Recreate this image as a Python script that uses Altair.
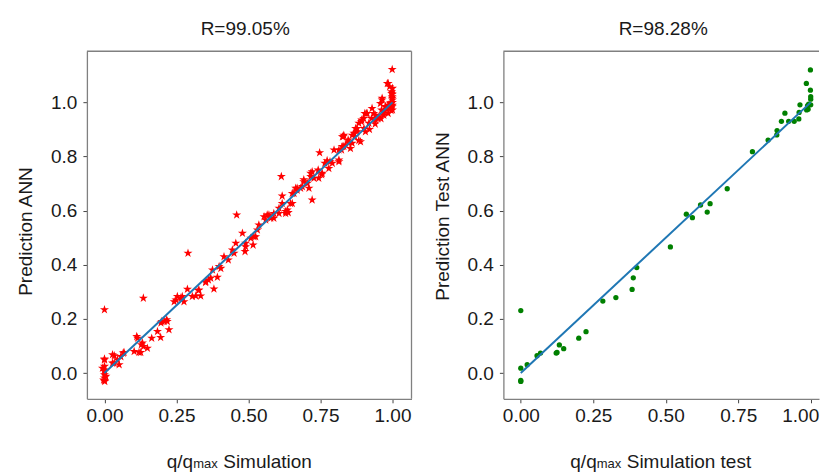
import altair as alt
import pandas as pd

FONT = "Liberation Sans"
TXT = "#1a1a1a"
GRAY = "#808080"
STAR = ("M0,-1L0.2245,-0.309L0.951,-0.309L0.3633,0.118L0.5878,0.809L0,0.382"
        "L-0.5878,0.809L-0.3633,0.118L-0.951,-0.309L-0.2245,-0.309Z")

# ---------------- data ----------------
train_x = [0.0, 0.0, 0.0, 0.0, 0.0, 0.0, 0.0, 0.005, -0.003, 0.001, 0.0, -0.007, 0.0,
           0.028, 0.034, 0.045, 0.051, 0.057, 0.065, 0.034, 0.068, 0.028,
           0.103, 0.112, 0.12, 0.128, 0.135, 0.135, 0.149, 0.164, 0.184, 0.195, 0.199, 0.207, 0.216, 0.224,
           0.126, 0.115, 0.132, 0.196, 0.218,
           0.242, 0.253, 0.265, 0.276, 0.288, 0.29, 0.305, 0.317, 0.326, 0.334, 0.248, 0.27, 0.328,
           0.351, 0.361, 0.375, 0.38, 0.392, 0.398, 0.369, 0.352, 0.404,
           0.415, 0.43, 0.444, 0.456, 0.459, 0.479, 0.488, 0.49, 0.45, 0.49, 0.516, 0.508,
           0.519, 0.531, 0.536, 0.554, 0.565, 0.577, 0.588, 0.606, 0.614, 0.617, 0.629, 0.638, 0.56, 0.571,
           0.588, 0.525, 0.629,
           0.652, 0.658, 0.669, 0.681, 0.692, 0.71, 0.716, 0.721, 0.727, 0.646, 0.664, 0.692, 0.704, 0.687,
           0.669, 0.652, 0.716, 0.744, 0.721, 0.635, 0.606, 0.617,
           0.742, 0.747, 0.754, 0.765, 0.773, 0.783, 0.756, 0.779, 0.791, 0.814,
           0.797, 0.814, 0.823, 0.829, 0.837, 0.846, 0.854, 0.86, 0.869, 0.877, 0.883, 0.814, 0.831, 0.849,
           0.826, 0.866, 0.877, 0.893, 0.904, 0.825, 0.848, 0.889, 0.86, 0.831, 0.872, 0.883,
           0.892, 0.901, 0.906, 0.909, 0.918, 0.927, 0.935, 0.941, 0.953, 0.962, 0.964, 0.97, 0.976, 0.982,
           0.985, 0.99, 0.993, 0.997, 0.999, 0.999, 0.999, 1.0, 1.0, 1.0, 0.9, 0.912, 0.929, 0.941, 0.958,
           0.964, 0.976, 0.993, 0.999, 0.997, 0.985,
           0.95, 0.97, 0.98, 0.99, 1.0, 1.0, 1.0, 0.995, 0.92, 0.94, 0.96, 0.985]
train_y = [0.234, 0.052, 0.025, 0.012, -0.006, -0.018, -0.027, -0.012, -0.025, -0.031, 0.049, 0.018, 0.006,
           0.068, 0.037, 0.049, 0.031, 0.061, 0.074, 0.064, 0.076, 0.037,
           0.08, 0.135, 0.076, 0.105, 0.277, 0.098, 0.092, 0.129, 0.154, 0.132, 0.191, 0.191, 0.197, 0.16,
           0.076, 0.129, 0.111, 0.185, 0.191,
           0.264, 0.283, 0.277, 0.264, 0.31, 0.443, 0.283, 0.285, 0.305, 0.285, 0.27, 0.283, 0.307,
           0.335, 0.344, 0.381, 0.311, 0.354, 0.394, 0.351, 0.338, 0.387,
           0.43, 0.418, 0.455, 0.48, 0.584, 0.517, 0.449, 0.48, 0.443, 0.467, 0.473, 0.498,
           0.504, 0.529, 0.547, 0.578, 0.584, 0.572, 0.59, 0.59, 0.726, 0.654, 0.597, 0.593, 0.566, 0.584,
           0.572, 0.504, 0.59,
           0.627, 0.664, 0.683, 0.683, 0.714, 0.683, 0.738, 0.64, 0.72, 0.627, 0.683, 0.707, 0.701, 0.689,
           0.676, 0.664, 0.726, 0.72, 0.744, 0.603, 0.609, 0.627,
           0.75, 0.814, 0.733, 0.775, 0.785, 0.781, 0.738, 0.756, 0.775, 0.781,
           0.824, 0.787, 0.824, 0.873, 0.843, 0.861, 0.83, 0.849, 0.873, 0.892, 0.859, 0.824, 0.837, 0.855,
           0.873, 0.886, 0.904, 0.935, 0.959, 0.837, 0.849, 0.855, 0.879, 0.879, 0.904, 0.923,
           0.929, 0.904, 0.892, 0.959, 0.923, 0.941, 0.959, 0.935, 0.947, 0.972, 1.009, 0.953, 0.984, 1.07,
           0.959, 1.058, 0.996, 1.039, 1.122, 1.021, 0.984, 1.052, 1.009, 0.972, 0.941, 0.959, 0.978, 0.953, 0.996,
           1.015, 0.985, 0.999, 1.015, 1.033, 1.07,
           0.94, 0.965, 0.975, 0.985, 0.99, 1.0, 1.03, 0.97, 0.9, 0.92, 0.94, 0.99]

test_x = [0.0, 0.0, 0.0, 0.0, 0.022, 0.056, 0.068, 0.122, 0.125, 0.133, 0.148, 0.2, 0.225,
          0.283, 0.328, 0.384, 0.388, 0.4, 0.516, 0.571, 0.592, 0.62, 0.643, 0.653, 0.712,
          0.799, 0.853, 0.883, 0.884, 0.899, 0.911, 0.924, 0.943, 0.959, 0.96, 0.963,
          0.985, 0.986, 0.989, 0.993, 0.999, 0.999, 1.0, 1.0, 1.0, 0.991]
test_y = [0.231, 0.018, -0.027, -0.031, 0.031, 0.064, 0.074, 0.074, 0.076, 0.104, 0.09, 0.129, 0.153,
          0.266, 0.279, 0.309, 0.352, 0.39, 0.466, 0.587, 0.574, 0.621, 0.595, 0.626, 0.681,
          0.818, 0.861, 0.88, 0.896, 0.93, 0.96, 0.93, 0.93, 0.939, 0.963, 0.991,
          1.07, 0.972, 0.988, 0.994, 1.12, 1.045, 1.021, 1.012, 0.991, 0.975]

line_x = [0.0, 1.0]
line_y = [0.0, 1.0]

titles = ["R=99.05%", "R=98.28%"]
y_titles = ["Prediction ANN", "Prediction Test ANN"]
x_title_parts = [["q/q", "max", "Simulation"], ["q/q", "max", "Simulation test"]]
x_ticks = [0.0, 0.25, 0.5, 0.75, 1.0]
y_ticks = [0.0, 0.2, 0.4, 0.6, 0.8, 1.0]

train = pd.DataFrame({"sim": train_x, "pred": train_y})
test = pd.DataFrame({"sim": test_x, "pred": test_y})
line_df = pd.DataFrame({"sim": line_x, "pred": line_y})

H = 348
Y_DOM = [-0.095, 1.189]


def panel(df, kind, W, x_dom, title, ytitle, ty, parts, tx, dx, right_border, flush):
    xs = alt.Scale(domain=x_dom, nice=False, zero=False)
    ys = alt.Scale(domain=Y_DOM, nice=False, zero=False)
    if flush:
        xax = alt.Axis(values=x_ticks, format=".2f", title="", grid=False, tickSize=4,
                       labelPadding=4, labelFontSize=19, labelFont=FONT, labelColor=TXT,
                       tickColor="#444444", domainColor=GRAY, domainWidth=1.3,
                       labelFlush=12, labelFlushOffset=8)
    else:
        xax = alt.Axis(values=x_ticks, format=".2f", title="", grid=False, tickSize=4,
                       labelPadding=4, labelFontSize=19, labelFont=FONT, labelColor=TXT,
                       tickColor="#444444", domainColor=GRAY, domainWidth=1.3,
                       labelFlush=False)
    yax = alt.Axis(values=y_ticks, format=".1f", title=ytitle, grid=False, tickSize=4,
                   labelPadding=6, labelFontSize=19, labelFont=FONT, labelColor=TXT,
                   tickColor="#444444", domainColor=GRAY, domainWidth=1.3,
                   titleFont=FONT, titleFontSize=19, titleFontWeight="normal",
                   titleColor=TXT, titleX=-61, titleY=ty, titleBaseline="middle")
    if kind == "star":
        pts = alt.Chart(df).mark_point(shape=STAR, filled=True, size=90, color="#ff0000",
                                       opacity=1)
    else:
        pts = alt.Chart(df).mark_circle(size=28, color="#008000", opacity=1)
    pts = pts.encode(x=alt.X("sim:Q", scale=xs, axis=xax),
                     y=alt.Y("pred:Q", scale=ys, axis=yax))
    ln = alt.Chart(line_df).mark_line(color="#1f77b4", strokeWidth=2).encode(
        x=alt.X("sim:Q", scale=xs), y=alt.Y("pred:Q", scale=ys))
    layers = [pts, ln]
    one = pd.DataFrame({"a": [0]})
    layers.append(alt.Chart(one).mark_rule(color=GRAY, strokeWidth=1.3).encode(
        x=alt.value(0), x2=alt.value(W), y=alt.value(0)))
    if right_border:
        layers.append(alt.Chart(one).mark_rule(color=GRAY, strokeWidth=1.3).encode(
            x=alt.value(W), y=alt.value(0), y2=alt.value(H)))
    base_y = 417
    offs = [0, 26.4, 56.5]
    sizes = [19, 13, 19]
    for s, o, fs in zip(parts, offs, sizes):
        layers.append(alt.Chart(pd.DataFrame({"t": [s]})).mark_text(
            align="left", baseline="alphabetic", fontSize=fs, font=FONT, color=TXT
        ).encode(x=alt.value(tx + o), y=alt.value(base_y), text="t:N"))
    return alt.layer(*layers).properties(
        width=W, height=H,
        title=alt.TitleParams(title, font=FONT, fontSize=19, fontWeight="normal",
                              color=TXT, baseline="bottom", offset=-7, dx=dx))


left = panel(train, "star", 325, [-0.061, 1.066], titles[0], y_titles[0], 180,
             x_title_parts[0], 80, -4, True, False)
right = panel(test, "dot", 316, [-0.06, 1.0286], titles[1], y_titles[1], 165,
              x_title_parts[1], 67, 2, False, True)

chart = alt.hconcat(left, right, spacing=19,
                    padding={"left": 8, "top": 10, "right": 0, "bottom": 0}
                    ).configure_view(stroke="transparent")

chart.save("out.html", embed_options={"renderer": "svg", "actions": False})
